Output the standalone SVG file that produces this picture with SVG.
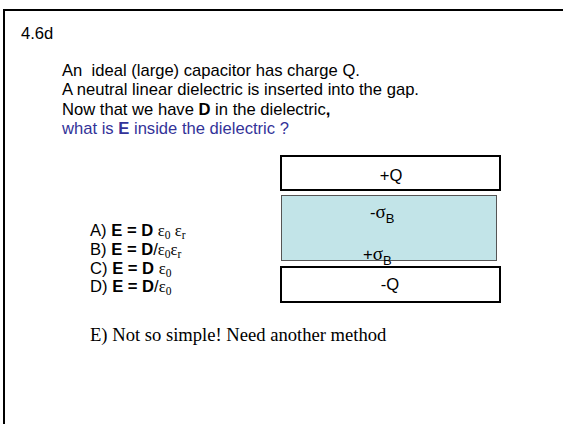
<svg xmlns="http://www.w3.org/2000/svg" width="563" height="424" viewBox="0 0 563 424">
<style>
.s{font-family:"Liberation Sans",Arial,sans-serif;font-size:16.6px;fill:#000}
.t{font-family:"Liberation Serif","Times New Roman",serif;font-size:16.6px;fill:#000}
.b{font-weight:bold}
.blue{fill:#333399}
.plate{fill:#fff;stroke:#000;stroke-width:2}
.diel{fill:#c2e4e8;stroke:#555;stroke-width:1}
.sub{font-size:11.5px}
.sig{font-family:"Liberation Serif","Times New Roman",serif;font-size:19px}
.sb{font-size:13px}
</style>
<rect x="4" y="10" width="570" height="430" fill="#fff" stroke="#000" stroke-width="2"/>
<g id="title"><text class="s" x="21" y="38.5">4.6d</text></g>
<g id="question">
<text class="s" x="62" y="75.5" xml:space="preserve">An  ideal (large) capacitor has charge Q.</text>
<text class="s" x="62" y="95">A neutral linear dielectric is inserted into the gap.</text>
<text class="s" x="62" y="114.5">Now that we have <tspan class="b">D</tspan> in the dielectric<tspan class="b">,</tspan></text>
<text class="s blue" x="62" y="134">what is <tspan class="b">E</tspan> inside the dielectric ?</text>
</g>
<g id="answers">
<text class="s" x="90" y="236">A) <tspan class="b">E = D</tspan> <tspan class="t">ε</tspan><tspan class="t sub" dy="3">0</tspan><tspan class="t" dy="-3"> ε</tspan><tspan class="t sub" dy="3">r</tspan></text>
<text class="s" x="90" y="255">B) <tspan class="b">E = D</tspan>/<tspan class="t">ε</tspan><tspan class="t sub" dy="3">0</tspan><tspan class="t" dy="-3">ε</tspan><tspan class="t sub" dy="3">r</tspan></text>
<text class="s" x="90" y="273.5">C) <tspan class="b">E = D</tspan> <tspan class="t">ε</tspan><tspan class="t sub" dy="3">0</tspan></text>
<text class="s" x="90" y="292">D) <tspan class="b">E = D</tspan>/<tspan class="t">ε</tspan><tspan class="t sub" dy="3">0</tspan></text>
<text class="t" x="90" y="341" style="font-size:18.6px">E) Not so simple! Need another method</text>
</g>
<g id="top-plate">
<rect class="plate" x="281" y="156" width="219" height="34"/>
<text class="s" x="391" y="181" text-anchor="middle">+Q</text>
</g>
<g id="dielectric">
<rect class="diel" x="281.5" y="195.5" width="215" height="65"/>
<text class="s" x="370" y="218">-<tspan class="sig">σ</tspan><tspan class="sb" dy="5">B</tspan></text>
<text class="s" x="363" y="260">+<tspan class="sig">σ</tspan><tspan class="sb" dy="5">B</tspan></text>
</g>
<g id="bottom-plate">
<rect class="plate" x="281" y="267" width="219" height="35"/>
<text class="s" x="390" y="290" text-anchor="middle">-Q</text>
</g>
<g id="connectors"/>
</svg>
